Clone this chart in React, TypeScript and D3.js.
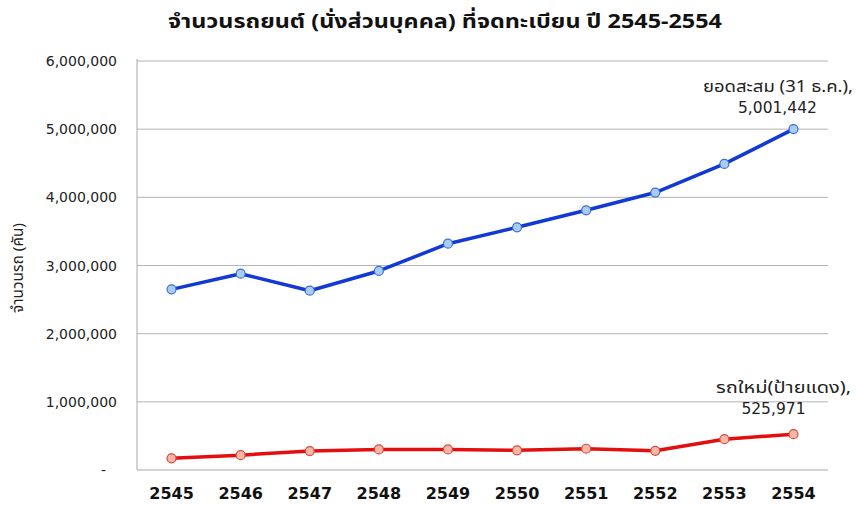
import * as d3 from 'd3';
import React from 'react';

// years (Buddhist era)
const years = ['2545', '2546', '2547', '2548', '2549', '2550', '2551', '2552', '2553', '2554'];

// accumulated registered cars at 31 Dec
const totalCars = [2650000, 2880000, 2630000, 2920000, 3320000, 3560000, 3810000, 4070000, 4490000, 5001442];

// new cars (red plate) per year
const newCars = [172000, 218000, 278000, 302000, 302000, 288000, 312000, 282000, 452000, 525971];

const yTicks = [0, 1000000, 2000000, 3000000, 4000000, 5000000, 6000000];

const title = 'จำนวนรถยนต์ (นั่งส่วนบุคคล) ที่จดทะเบียน ปี 2545-2554';
const yTitle = 'จำนวนรถ (คัน)';
const totalLabel = 'ยอดสะสม (31 ธ.ค.),';
const newLabel = 'รถใหม่(ป้ายแดง),';

const W = 856;
const H = 505;
const left = 137;
const right = 828;
const top = 61;
const bottom = 470;

const thaiFont = "Tahoma, 'Noto Sans', 'Noto Sans Thai', sans-serif";
const numFont = "'DejaVu Sans', sans-serif";

export default function App() {
  const x = d3.scaleBand().domain(years).range([left, right]);
  const y = d3.scaleLinear().domain([0, 6000000]).range([bottom, top]);
  const cx = (yr: string) => (x(yr) as number) + x.bandwidth() / 2;

  const line = d3.line<number>()
    .x((d, i) => cx(years[i]))
    .y(d => y(d));

  const fmt = d3.format(',');

  const series = [
    { values: totalCars, stroke: '#1238d6', fill: '#a9cdf0', dot: '#3a6fd0' },
    { values: newCars, stroke: '#e30f0f', fill: '#f5b8a8', dot: '#d84a3a' },
  ];

  const last = years[years.length - 1];

  return (
    <svg width={W} height={H} style={{ position: 'absolute', left: 0, top: 0, background: '#fff' }}>
      <text x={168} y={28} textLength={554} lengthAdjust="spacingAndGlyphs" fontFamily={thaiFont} fontWeight="bold" fontSize={20} fill="#111">
        {title}
      </text>

      {yTicks.map(t => (
        <g key={t}>
          {t > 0 && (
            <line x1={left} x2={right} y1={y(t)} y2={y(t)} stroke="#b4b4b4" strokeWidth={1} />
          )}
          <text
            x={t === 0 ? 106 : 117}
            y={y(t) + 5}
            textAnchor="end"
            fontFamily={numFont}
            fontSize={14}
            fill="#222"
          >
            {t === 0 ? '-' : fmt(t)}
          </text>
        </g>
      ))}

      <line x1={left} x2={left} y1={top - 2} y2={bottom} stroke="#a8a8a8" />
      <line x1={left} x2={right} y1={bottom} y2={bottom} stroke="#a8a8a8" />

      {years.map(yr => (
        <text
          key={yr}
          x={cx(yr)}
          y={499}
          textAnchor="middle"
          fontFamily={numFont}
          fontWeight="bold"
          fontSize={16}
          fill="#111"
        >
          {yr}
        </text>
      ))}

      <text
        transform={`translate(23,313) rotate(-90)`}
        textLength={90}
        lengthAdjust="spacingAndGlyphs"
        fontFamily={thaiFont}
        fontSize={15}
        fill="#222"
      >
        {yTitle}
      </text>

      {series.map((s, si) => (
        <g key={si}>
          <path d={line(s.values) || ''} fill="none" stroke={s.stroke} strokeWidth={3.5} strokeLinejoin="round" />
          {s.values.map((v, i) => (
            <circle key={i} cx={cx(years[i])} cy={y(v)} r={4.5} fill={s.fill} stroke={s.dot} strokeWidth={1.2} />
          ))}
        </g>
      ))}

      <text x={703} y={92} textLength={150} lengthAdjust="spacingAndGlyphs" fontFamily={thaiFont} fontSize={16} fill="#222">
        {totalLabel}
      </text>
      <text x={cx(last) - 16} y={113} textAnchor="middle" fontFamily={numFont} fontSize={15.5} fill="#222">
        {fmt(totalCars[totalCars.length - 1])}
      </text>

      <text x={716} y={393} textLength={135} lengthAdjust="spacingAndGlyphs" fontFamily={thaiFont} fontSize={16} fill="#222">
        {newLabel}
      </text>
      <text x={cx(last) - 20} y={414} textAnchor="middle" fontFamily={numFont} fontSize={15.5} fill="#222">
        {fmt(newCars[newCars.length - 1])}
      </text>
    </svg>
  );
}
